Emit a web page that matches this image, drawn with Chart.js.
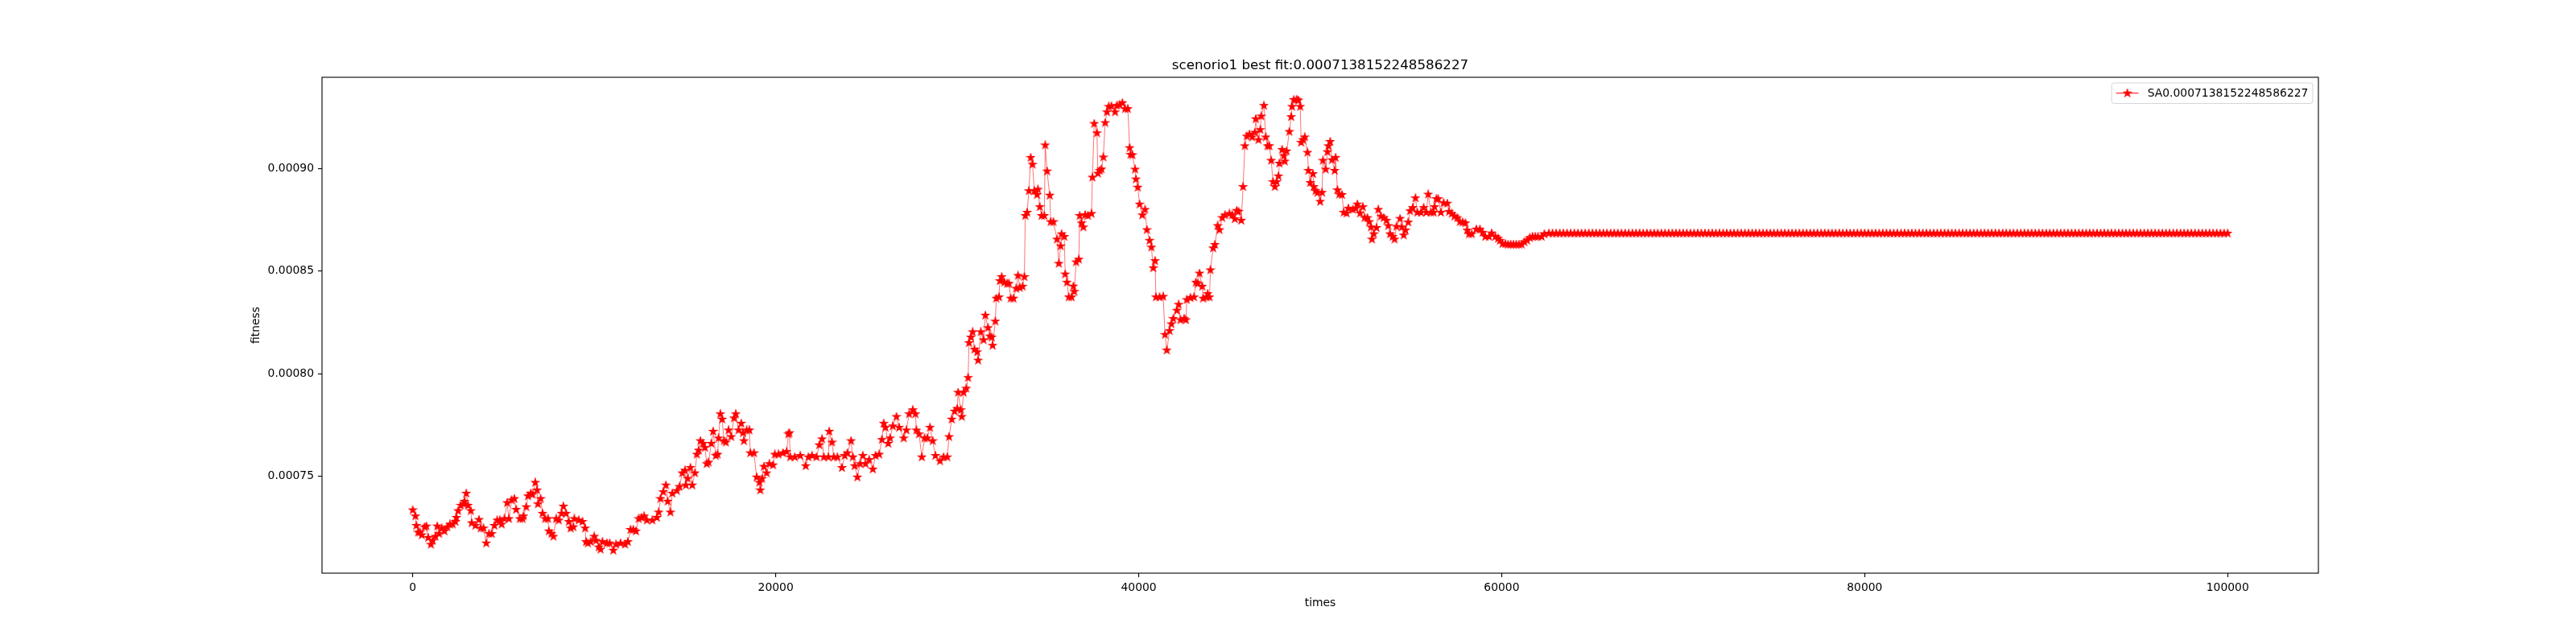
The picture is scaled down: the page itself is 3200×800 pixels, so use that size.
<!DOCTYPE html>
<html>
<head>
<meta charset="utf-8">
<script src="https://cdn.jsdelivr.net/npm/chart.js@4.4.1/dist/chart.umd.min.js"></script>
<style>
html,body{margin:0;padding:0;background:#fff;}
canvas{display:block;}
</style>
</head>
<body>
<canvas id="c" width="3200" height="800"></canvas>
<script>
// ---------- data ----------
const chartTitle = "scenorio1 best fit:0.0007138152248586227";
const seriesLabel = "SA0.0007138152248586227";
const xAxisLabel = "times";
const yAxisLabel = "fitness";

const xTicks = [0, 20000, 40000, 60000, 80000, 100000];
const xTickLabels = ["0", "20000", "40000", "60000", "80000", "100000"];
const yTicks = [0.00075, 0.00080, 0.00085, 0.00090];
const yTickLabels = ["0.00075", "0.00080", "0.00085", "0.00090"];
const xRange = [-5000, 105000];
const yRange = [0.0007027, 0.0009445];

const times = [
0,150,200,300,400,500,650,750,850,1000,
1100,1250,1350,1450,1600,1750,1900,2050,2200,2350,
2400,2500,2650,2800,2850,2950,3050,3200,3250,3450,
3650,3750,3900,4050,4200,4350,4500,4650,4800,4900,
5050,5200,5300,5450,5600,5700,5900,6050,6100,6250,
6350,6500,6600,6750,6850,6900,7050,7150,7300,7450,
7500,7650,7750,7900,8050,8200,8300,8450,8600,8700,
8850,8900,9150,9350,9500,9550,9650,9800,10000,10100,
10250,10350,10450,10700,10850,11050,11200,11450,11700,11850,
12000,12150,12300,12450,12600,12750,12900,13200,13450,13550,
13650,13800,13950,14050,14200,14300,14550,14700,14850,15000,
15050,15150,15300,15400,15550,15650,15750,15850,16000,16100,
16200,16300,16450,16550,16700,16800,16850,16950,17050,17150,
17250,17400,17550,17700,17800,17950,18100,18200,18250,18400,
18550,18600,18800,18950,19100,19150,19250,19350,19500,19650,
19850,19950,20150,20400,20600,20700,20750,20800,21050,21350,
21650,21800,22000,22250,22400,22550,22650,22900,22950,23100,
23200,23400,23650,23800,23950,24150,24250,24350,24500,24650,
24800,24950,25150,25350,25500,25700,25850,25950,26050,26200,
26300,26450,26650,26800,27050,27200,27350,27550,27700,27750,
27900,28050,28200,28350,28500,28650,28800,29050,29250,29450,
29550,29700,29850,30000,30050,30200,30250,30350,30500,30600,
30650,30750,30850,30950,31100,31150,31300,31450,31550,31700,
31800,31900,31950,32100,32150,32300,32350,32450,32600,32750,
32850,32950,33100,33250,33350,33450,33600,33700,33750,33850,
33950,34050,34150,34250,34400,34450,34550,34650,34800,34850,
34950,35100,35150,35300,35500,35600,35700,35750,35900,35950,
36050,36150,36300,36400,36450,36550,36700,36750,36850,36950,
37050,37200,37400,37450,37550,37700,37750,37850,37950,38050,
38150,38250,38350,38500,38700,38800,38950,39100,39250,39400,
39500,39550,39650,39800,39850,39950,40050,40200,40350,40450,
40600,40700,40800,40900,40950,41150,41350,41450,41550,41700,
41800,41900,42100,42200,42300,42500,42600,42650,42850,43050,
43150,43250,43350,43500,43550,43750,43800,43900,43950,44100,
44200,44350,44450,44600,44750,45000,45150,45300,45400,45500,
45650,45750,45850,45950,46100,46250,46400,46450,46600,46700,
46750,46900,47000,47100,47200,47300,47400,47500,47600,47700,
47750,47900,48000,48050,48150,48300,48400,48450,48550,48700,
48800,48900,48950,49050,49150,49300,49350,49450,49600,49650,
49750,49850,50000,50100,50150,50300,50400,50450,50550,50650,
50800,50850,50950,51050,51200,51300,51450,51550,51800,51950,
52050,52200,52350,52450,52600,52700,52800,52850,52950,53100,
53200,53350,53500,53650,53750,53850,54000,54100,54200,54400,
54500,54600,54700,54850,54950,55100,55250,55350,55550,55700,
55850,55950,56100,56250,56300,56400,56500,56650,56800,57000,
57100,57250,57400,57550,57700,57850,58000,58100,58200,58350,
58600,58800,58950,59100,59300,59450,59650,59800,59900,60050,
60200,60350,60500,60650,60800,60950,61100,61250,61400,61550,
61700,61850,62000,62200,62350,62600
];

const fitness = [
0.0007335,0.0007305,0.0007259,0.0007226,0.0007226,0.0007213,0.0007252,0.0007256,0.0007200,0.0007167,
0.0007186,0.0007206,0.0007256,0.0007219,0.0007246,0.0007232,0.0007252,0.0007265,0.0007265,0.0007278,
0.0007298,0.0007331,0.0007357,0.0007364,0.0007377,0.0007416,0.0007357,0.0007331,0.0007272,0.0007259,
0.0007288,0.0007246,0.0007246,0.0007173,0.0007219,0.0007219,0.0007259,0.0007285,0.0007285,0.0007265,
0.0007292,0.0007370,0.0007292,0.0007383,0.0007390,0.0007337,0.0007292,0.0007292,0.0007305,0.0007350,
0.0007403,0.0007416,0.0007410,0.0007469,0.0007432,0.0007364,0.0007390,0.0007318,0.0007292,0.0007292,
0.0007232,0.0007219,0.0007206,0.0007292,0.0007285,0.0007318,0.0007353,0.0007318,0.0007278,0.0007246,
0.0007252,0.0007292,0.0007285,0.0007278,0.0007246,0.0007180,0.0007173,0.0007180,0.0007206,0.0007186,
0.0007154,0.0007143,0.0007180,0.0007173,0.0007173,0.0007138,0.0007167,0.0007173,0.0007167,0.0007180,
0.0007239,0.0007239,0.0007232,0.0007292,0.0007298,0.0007305,0.0007285,0.0007285,0.0007298,0.0007324,
0.0007390,0.0007423,0.0007456,0.0007377,0.0007324,0.0007416,0.0007429,0.0007449,0.0007515,0.0007528,
0.0007456,0.0007488,0.0007541,0.0007456,0.0007515,0.0007606,0.0007626,0.0007672,0.0007659,0.0007639,
0.0007560,0.0007567,0.0007659,0.0007718,0.0007600,0.0007606,0.0007685,0.0007803,0.0007777,0.0007672,
0.0007665,0.0007724,0.0007692,0.0007783,0.0007803,0.0007724,0.0007757,0.0007711,0.0007672,0.0007724,
0.0007724,0.0007613,0.0007613,0.0007495,0.0007469,0.0007432,0.0007488,0.0007547,0.0007515,0.0007560,
0.0007554,0.0007606,0.0007606,0.0007613,0.0007619,0.0007705,0.0007711,0.0007593,0.0007593,0.0007600,
0.0007550,0.0007593,0.0007600,0.0007593,0.0007652,0.0007681,0.0007593,0.0007593,0.0007718,0.0007665,
0.0007593,0.0007593,0.0007541,0.0007600,0.0007613,0.0007672,0.0007593,0.0007550,0.0007495,0.0007560,
0.0007600,0.0007560,0.0007580,0.0007534,0.0007600,0.0007606,0.0007678,0.0007757,0.0007737,0.0007659,
0.0007685,0.0007744,0.0007790,0.0007737,0.0007685,0.0007724,0.0007803,0.0007823,0.0007803,0.0007724,
0.0007705,0.0007593,0.0007685,0.0007685,0.0007737,0.0007672,0.0007600,0.0007574,0.0007593,0.0007593,
0.0007692,0.0007777,0.0007816,0.0007829,0.0007908,0.0007823,0.0007790,0.0007908,0.0007928,0.0007980,
0.0008150,0.0008177,0.0008203,0.0008118,0.0008105,0.0008065,0.0008203,0.0008164,0.0008284,0.0008223,
0.0008183,0.0008177,0.0008137,0.0008255,0.0008367,0.0008373,0.0008452,0.0008472,0.0008445,0.0008439,
0.0008439,0.0008367,0.0008367,0.0008415,0.0008478,0.0008419,0.0008425,0.0008472,0.0008770,0.0008786,
0.0008891,0.0009053,0.0009020,0.0008891,0.0008872,0.0008898,0.0008813,0.0008770,0.0008770,0.0009114,
0.0008987,0.0008869,0.0008740,0.0008740,0.0008655,0.0008537,0.0008622,0.0008681,0.0008668,0.0008485,
0.0008445,0.0008373,0.0008373,0.0008426,0.0008400,0.0008544,0.0008557,0.0008770,0.0008734,0.0008714,
0.0008774,0.0008770,0.0008780,0.0008957,0.0009219,0.0009173,0.0008976,0.0008990,0.0008997,0.0009055,
0.0009223,0.0009275,0.0009302,0.0009304,0.0009275,0.0009307,0.0009310,0.0009320,0.0009291,0.0009291,
0.0009101,0.0009068,0.0009066,0.0008996,0.0008948,0.0008908,0.0008826,0.0008773,0.0008800,0.0008701,
0.0008649,0.0008616,0.0008515,0.0008550,0.0008373,0.0008373,0.0008376,0.0008190,0.0008114,0.0008209,
0.0008242,0.0008268,0.0008308,0.0008337,0.0008262,0.0008268,0.0008262,0.0008360,0.0008370,0.0008373,
0.0008445,0.0008439,0.0008489,0.0008425,0.0008367,0.0008373,0.0008389,0.0008373,0.0008505,0.0008612,
0.0008629,0.0008721,0.0008701,0.0008760,0.0008773,0.0008780,0.0008773,0.0008754,0.0008795,0.0008790,
0.0008747,0.0008911,0.0009110,0.0009157,0.0009167,0.0009153,0.0009176,0.0009242,0.0009140,0.0009189,
0.0009255,0.0009307,0.0009153,0.0009110,0.0009110,0.0009039,0.0008935,0.0008911,0.0008935,0.0008963,
0.0009025,0.0009092,0.0009062,0.0009035,0.0009085,0.0009180,0.0009252,0.0009302,0.0009335,0.0009337,
0.0009333,0.0009302,0.0009127,0.0009140,0.0009153,0.0009078,0.0008990,0.0008931,0.0008974,0.0008911,
0.0008891,0.0008882,0.0008839,0.0008883,0.0009039,0.0008996,0.0009081,0.0009110,0.0009131,0.0009042,
0.0008990,0.0009053,0.0008895,0.0008874,0.0008872,0.0008786,0.0008782,0.0008806,0.0008800,0.0008806,
0.0008826,0.0008782,0.0008813,0.0008760,0.0008760,0.0008740,0.0008714,0.0008655,0.0008681,0.0008711,
0.0008800,0.0008767,0.0008760,0.0008747,0.0008721,0.0008681,0.0008668,0.0008655,0.0008717,0.0008756,
0.0008714,0.0008675,0.0008699,0.0008738,0.0008793,0.0008809,0.0008856,0.0008786,0.0008786,0.0008809,
0.0008786,0.0008874,0.0008786,0.0008786,0.0008813,0.0008852,0.0008852,0.0008786,0.0008832,0.0008830,
0.0008790,0.0008780,0.0008767,0.0008760,0.0008740,0.0008738,0.0008734,0.0008699,0.0008681,0.0008681,
0.0008704,0.0008704,0.0008688,0.0008668,0.0008668,0.0008685,0.0008668,0.0008659,0.0008649,0.0008633,
0.0008633,0.0008630,0.0008630,0.0008630,0.0008630,0.0008630,0.0008630,0.0008642,0.0008650,0.0008662,
0.0008668,0.0008668,0.0008668,0.0008668,0.0008681,0.0008684
];

// converged part: the curve stays flat at one value up to 100000
const flatTimes = [
62800,63000,63200,63400,63600,63800,64000,64200,64400,64600,
64800,65000,65200,65400,65600,65800,66000,66200,66400,66600,
66800,67000,67200,67400,67600,67800,68000,68200,68400,68600,
68800,69000,69200,69400,69600,69800,70000,70200,70400,70600,
70800,71000,71200,71400,71600,71800,72000,72200,72400,72600,
72800,73000,73200,73400,73600,73800,74000,74200,74400,74600,
74800,75000,75200,75400,75600,75800,76000,76200,76400,76600,
76800,77000,77200,77400,77600,77800,78000,78200,78400,78600,
78800,79000,79200,79400,79600,79800,80000,80200,80400,80600,
80800,81000,81200,81400,81600,81800,82000,82200,82400,82600,
82800,83000,83200,83400,83600,83800,84000,84200,84400,84600,
84800,85000,85200,85400,85600,85800,86000,86200,86400,86600,
86800,87000,87200,87400,87600,87800,88000,88200,88400,88600,
88800,89000,89200,89400,89600,89800,90000,90200,90400,90600,
90800,91000,91200,91400,91600,91800,92000,92200,92400,92600,
92800,93000,93200,93400,93600,93800,94000,94200,94400,94600,
94800,95000,95200,95400,95600,95800,96000,96200,96400,96600,
96800,97000,97200,97400,97600,97800,98000,98200,98400,98600,
98800,99000,99200,99400,99600,99800,100000
];
const flatFitness = [
0.0008684,0.0008684,0.0008684,0.0008684,0.0008684,0.0008684,0.0008684,0.0008684,0.0008684,0.0008684,
0.0008684,0.0008684,0.0008684,0.0008684,0.0008684,0.0008684,0.0008684,0.0008684,0.0008684,0.0008684,
0.0008684,0.0008684,0.0008684,0.0008684,0.0008684,0.0008684,0.0008684,0.0008684,0.0008684,0.0008684,
0.0008684,0.0008684,0.0008684,0.0008684,0.0008684,0.0008684,0.0008684,0.0008684,0.0008684,0.0008684,
0.0008684,0.0008684,0.0008684,0.0008684,0.0008684,0.0008684,0.0008684,0.0008684,0.0008684,0.0008684,
0.0008684,0.0008684,0.0008684,0.0008684,0.0008684,0.0008684,0.0008684,0.0008684,0.0008684,0.0008684,
0.0008684,0.0008684,0.0008684,0.0008684,0.0008684,0.0008684,0.0008684,0.0008684,0.0008684,0.0008684,
0.0008684,0.0008684,0.0008684,0.0008684,0.0008684,0.0008684,0.0008684,0.0008684,0.0008684,0.0008684,
0.0008684,0.0008684,0.0008684,0.0008684,0.0008684,0.0008684,0.0008684,0.0008684,0.0008684,0.0008684,
0.0008684,0.0008684,0.0008684,0.0008684,0.0008684,0.0008684,0.0008684,0.0008684,0.0008684,0.0008684,
0.0008684,0.0008684,0.0008684,0.0008684,0.0008684,0.0008684,0.0008684,0.0008684,0.0008684,0.0008684,
0.0008684,0.0008684,0.0008684,0.0008684,0.0008684,0.0008684,0.0008684,0.0008684,0.0008684,0.0008684,
0.0008684,0.0008684,0.0008684,0.0008684,0.0008684,0.0008684,0.0008684,0.0008684,0.0008684,0.0008684,
0.0008684,0.0008684,0.0008684,0.0008684,0.0008684,0.0008684,0.0008684,0.0008684,0.0008684,0.0008684,
0.0008684,0.0008684,0.0008684,0.0008684,0.0008684,0.0008684,0.0008684,0.0008684,0.0008684,0.0008684,
0.0008684,0.0008684,0.0008684,0.0008684,0.0008684,0.0008684,0.0008684,0.0008684,0.0008684,0.0008684,
0.0008684,0.0008684,0.0008684,0.0008684,0.0008684,0.0008684,0.0008684,0.0008684,0.0008684,0.0008684,
0.0008684,0.0008684,0.0008684,0.0008684,0.0008684,0.0008684,0.0008684,0.0008684,0.0008684,0.0008684,
0.0008684,0.0008684,0.0008684,0.0008684,0.0008684,0.0008684,0.0008684
];

// ---------- styling & chart ----------
const FONT = '"DejaVu Sans", "Liberation Sans", sans-serif';
const RED = '#ff0000';

function makeStar() {
  const c = document.createElement('canvas');
  c.width = 12; c.height = 12;
  const g = c.getContext('2d');
  const cx = 6, cy = 6, R = 4.5, r = R * 0.382;
  g.beginPath();
  for (let i = 0; i < 10; i++) {
    const a = -Math.PI / 2 + i * Math.PI / 5;
    const rad = (i % 2 === 0) ? R : r;
    g.lineTo(cx + rad * Math.cos(a), cy + rad * Math.sin(a));
  }
  g.closePath();
  g.fillStyle = RED; g.fill();
  g.strokeStyle = RED; g.lineWidth = 1.4; g.stroke();
  return c;
}
const star = makeStar();

const points = [];
times.forEach((t, i) => points.push({ x: t, y: fitness[i] }));
flatTimes.forEach((t, i) => points.push({ x: t, y: flatFitness[i] }));

const framePlugin = {
  id: 'frameAndLegend',
  afterDraw(chart) {
    const ctx = chart.ctx, a = chart.chartArea;
    ctx.save();
    // axes frame (all four spines)
    ctx.strokeStyle = '#000'; ctx.lineWidth = 1.1;
    ctx.strokeRect(a.left, a.top, a.right - a.left, a.bottom - a.top);
    // legend box in upper right corner
    ctx.font = '13.9px ' + FONT;
    const tw = ctx.measureText(seriesLabel).width;
    const h = 25.5, w = 5.6 + 27.8 + 11.1 + tw + 5.6;
    const x1 = a.right - 7 - w, y1 = a.top + 7;
    ctx.beginPath();
    if (ctx.roundRect) ctx.roundRect(x1, y1, w, h, 3); else ctx.rect(x1, y1, w, h);
    ctx.fillStyle = 'rgba(255,255,255,0.8)'; ctx.fill();
    ctx.strokeStyle = '#d6d6d6'; ctx.lineWidth = 1; ctx.stroke();
    const cy = y1 + h / 2;
    ctx.beginPath();
    ctx.moveTo(x1 + 5.6, cy); ctx.lineTo(x1 + 33.4, cy);
    ctx.strokeStyle = RED; ctx.lineWidth = 1; ctx.stroke();
    ctx.drawImage(star, x1 + 19.5 - 6, cy - 6);
    ctx.fillStyle = '#000'; ctx.textAlign = 'left'; ctx.textBaseline = 'middle';
    ctx.fillText(seriesLabel, x1 + 44.5, cy + 0.5);
    ctx.restore();
  }
};

new Chart(document.getElementById('c'), {
  type: 'line',
  data: {
    datasets: [{
      label: seriesLabel,
      data: points,
      borderColor: 'rgba(255,0,0,0.55)',
      borderWidth: 1,
      pointStyle: star,
      pointRadius: 4,
      pointBackgroundColor: RED,
      pointBorderColor: RED,
      tension: 0,
      fill: false
    }]
  },
  options: {
    responsive: false,
    animation: false,
    devicePixelRatio: 1,
    events: [],
    layout: { padding: { left: 300, right: 320, top: 0, bottom: 0 } },
    plugins: {
      legend: { display: false },
      tooltip: { enabled: false },
      title: {
        display: true,
        fullSize: false,
        text: chartTitle,
        color: '#000',
        font: { family: FONT, size: 16.7, weight: 'normal', lineHeight: 1.2 },
        padding: { top: 72, bottom: 3.96 }
      }
    },
    scales: {
      x: {
        type: 'linear',
        min: xRange[0], max: xRange[1],
        afterBuildTicks: s => { s.ticks = xTicks.map(v => ({ value: v })); },
        afterFit: s => { s.height = 88; },
        grid: { display: true, drawOnChartArea: false, drawTicks: true, tickLength: 5, color: '#000', lineWidth: 1.1 },
        border: { display: false },
        ticks: {
          autoSkip: false, maxRotation: 0, minRotation: 0, padding: 5, color: '#000',
          font: { family: FONT, size: 13.9 },
          callback: (v, i) => xTickLabels[i]
        },
        title: {
          display: true, text: xAxisLabel, color: '#000',
          font: { family: FONT, size: 13.9, lineHeight: 1.2 },
          padding: { top: 0, bottom: 42 }
        }
      },
      y: {
        type: 'linear',
        min: yRange[0], max: yRange[1],
        afterBuildTicks: s => { s.ticks = yTicks.map(v => ({ value: v })); },
        afterFit: s => { s.width = 100; },
        grid: { display: true, drawOnChartArea: false, drawTicks: true, tickLength: 5, color: '#000', lineWidth: 1.1 },
        border: { display: false },
        ticks: {
          autoSkip: false, padding: 5, color: '#000',
          font: { family: FONT, size: 13.9 },
          callback: (v, i) => yTickLabels[i]
        },
        title: {
          display: true, text: yAxisLabel, color: '#000',
          font: { family: FONT, size: 13.9, lineHeight: 1.2 },
          padding: { top: 10, bottom: 0 }
        }
      }
    }
  },
  plugins: [framePlugin]
});
</script>
</body>
</html>
